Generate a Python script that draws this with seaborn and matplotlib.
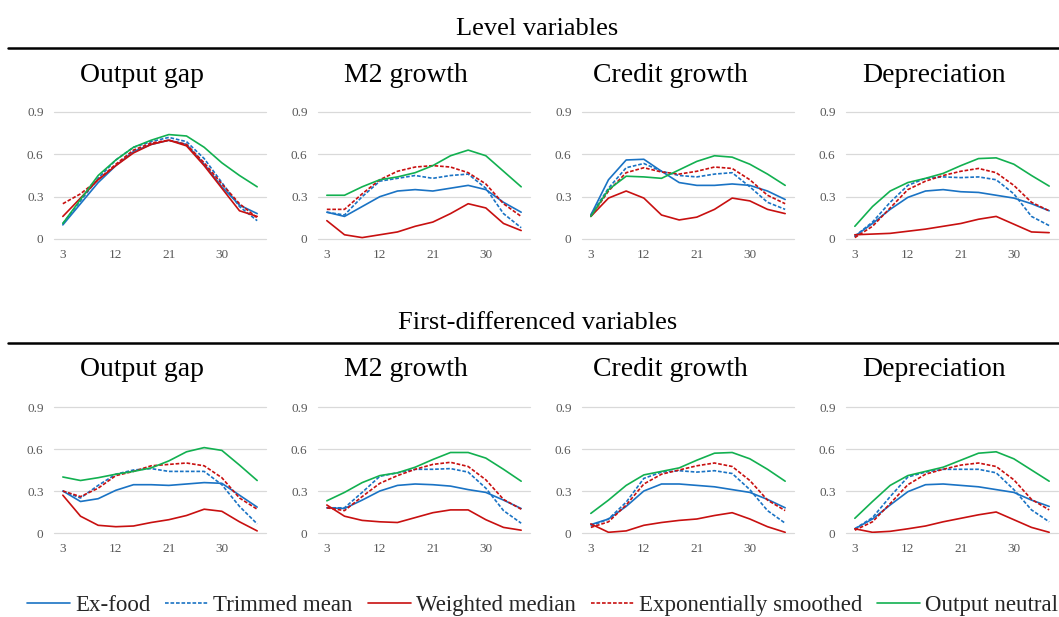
import matplotlib
matplotlib.use("Agg")
import matplotlib.pyplot as plt
from matplotlib.lines import Line2D
import numpy as np
import pandas as pd
import seaborn as sns

# ---------------- data ----------------
horizons = [3, 6, 9, 12, 15, 18, 21, 24, 27, 30, 33, 36]
series_names = ["Ex-food", "Trimmed mean", "Weighted median",
                "Exponentially smoothed", "Output neutral"]
panel_titles = ["Output gap", "M2 growth", "Credit growth", "Depreciation"]
section_titles = ["Level variables", "First-differenced variables"]
y_ticks = [0, 0.3, 0.6, 0.9]
y_tick_labels = ["0", "0.3", "0.6", "0.9"]
x_ticks = [3, 12, 21, 30]

lvl_output_gap = {
    "Ex-food":                [0.10, 0.25, 0.40, 0.52, 0.62, 0.67, 0.70, 0.67, 0.53, 0.37, 0.24, 0.18],
    "Trimmed mean":           [0.11, 0.27, 0.43, 0.56, 0.65, 0.69, 0.72, 0.69, 0.57, 0.40, 0.23, 0.13],
    "Weighted median":        [0.16, 0.29, 0.42, 0.52, 0.61, 0.67, 0.70, 0.66, 0.52, 0.36, 0.20, 0.16],
    "Exponentially smoothed": [0.25, 0.32, 0.42, 0.53, 0.63, 0.68, 0.70, 0.67, 0.54, 0.39, 0.25, 0.15],
    "Output neutral":         [0.11, 0.28, 0.45, 0.56, 0.65, 0.70, 0.74, 0.73, 0.65, 0.54, 0.45, 0.37],
}
lvl_m2_growth = {
    "Ex-food":                [0.19, 0.16, 0.23, 0.30, 0.34, 0.35, 0.34, 0.36, 0.38, 0.35, 0.26, 0.19],
    "Trimmed mean":           [0.19, 0.17, 0.30, 0.41, 0.43, 0.45, 0.43, 0.45, 0.46, 0.36, 0.18, 0.08],
    "Weighted median":        [0.13, 0.03, 0.01, 0.03, 0.05, 0.09, 0.12, 0.18, 0.25, 0.22, 0.11, 0.06],
    "Exponentially smoothed": [0.21, 0.21, 0.32, 0.42, 0.48, 0.51, 0.52, 0.51, 0.47, 0.39, 0.25, 0.16],
    "Output neutral":         [0.31, 0.31, 0.37, 0.42, 0.44, 0.47, 0.52, 0.59, 0.63, 0.59, 0.48, 0.37],
}
lvl_credit_growth = {
    "Ex-food":                [0.17, 0.42, 0.56, 0.565, 0.48, 0.40, 0.38, 0.38, 0.39, 0.38, 0.34, 0.28],
    "Trimmed mean":           [0.17, 0.36, 0.505, 0.535, 0.48, 0.45, 0.44, 0.46, 0.47, 0.37, 0.26, 0.21],
    "Weighted median":        [0.16, 0.29, 0.34, 0.29, 0.17, 0.135, 0.155, 0.21, 0.29, 0.27, 0.21, 0.18],
    "Exponentially smoothed": [0.16, 0.34, 0.47, 0.505, 0.475, 0.46, 0.48, 0.51, 0.50, 0.42, 0.31, 0.25],
    "Output neutral":         [0.16, 0.35, 0.445, 0.44, 0.43, 0.49, 0.55, 0.59, 0.58, 0.53, 0.46, 0.38],
}
lvl_depreciation = {
    "Ex-food":                [0.02, 0.11, 0.21, 0.295, 0.34, 0.35, 0.335, 0.33, 0.31, 0.29, 0.25, 0.20],
    "Trimmed mean":           [0.02, 0.12, 0.26, 0.38, 0.43, 0.44, 0.435, 0.44, 0.42, 0.32, 0.16, 0.095],
    "Weighted median":        [0.03, 0.035, 0.04, 0.055, 0.07, 0.09, 0.11, 0.14, 0.16, 0.105, 0.05, 0.045],
    "Exponentially smoothed": [0.01, 0.09, 0.22, 0.35, 0.41, 0.45, 0.48, 0.50, 0.47, 0.38, 0.26, 0.20],
    "Output neutral":         [0.09, 0.23, 0.34, 0.40, 0.43, 0.465, 0.52, 0.57, 0.575, 0.53, 0.45, 0.375],
}
fd_output_gap = {
    "Ex-food":                [0.30, 0.225, 0.245, 0.305, 0.345, 0.345, 0.34, 0.35, 0.36, 0.355, 0.27, 0.185],
    "Trimmed mean":           [0.30, 0.25, 0.34, 0.42, 0.45, 0.46, 0.44, 0.44, 0.44, 0.345, 0.19, 0.065],
    "Weighted median":        [0.27, 0.12, 0.055, 0.045, 0.05, 0.075, 0.095, 0.125, 0.17, 0.155, 0.08, 0.015],
    "Exponentially smoothed": [0.30, 0.26, 0.32, 0.41, 0.44, 0.48, 0.49, 0.50, 0.48, 0.395, 0.25, 0.17],
    "Output neutral":         [0.40, 0.375, 0.395, 0.42, 0.44, 0.465, 0.515, 0.58, 0.61, 0.59, 0.485, 0.375],
}
fd_m2_growth = {
    "Ex-food":                [0.18, 0.175, 0.235, 0.30, 0.34, 0.35, 0.345, 0.335, 0.31, 0.29, 0.235, 0.175],
    "Trimmed mean":           [0.18, 0.18, 0.29, 0.405, 0.43, 0.455, 0.455, 0.46, 0.435, 0.32, 0.16, 0.07],
    "Weighted median":        [0.20, 0.12, 0.09, 0.08, 0.075, 0.11, 0.145, 0.165, 0.165, 0.095, 0.04, 0.02],
    "Exponentially smoothed": [0.18, 0.16, 0.26, 0.355, 0.41, 0.455, 0.49, 0.505, 0.475, 0.38, 0.24, 0.17],
    "Output neutral":         [0.23, 0.29, 0.36, 0.41, 0.43, 0.47, 0.525, 0.575, 0.575, 0.535, 0.455, 0.37],
}
fd_credit_growth = {
    "Ex-food":                [0.06, 0.10, 0.19, 0.30, 0.35, 0.35, 0.34, 0.33, 0.31, 0.29, 0.24, 0.18],
    "Trimmed mean":           [0.05, 0.10, 0.22, 0.39, 0.435, 0.445, 0.435, 0.445, 0.425, 0.31, 0.16, 0.07],
    "Weighted median":        [0.065, 0.005, 0.015, 0.055, 0.075, 0.09, 0.10, 0.125, 0.145, 0.10, 0.045, 0.005],
    "Exponentially smoothed": [0.04, 0.08, 0.20, 0.35, 0.42, 0.45, 0.48, 0.50, 0.475, 0.375, 0.235, 0.16],
    "Output neutral":         [0.14, 0.235, 0.34, 0.415, 0.44, 0.465, 0.52, 0.57, 0.575, 0.53, 0.455, 0.37],
}
fd_depreciation = {
    "Ex-food":                [0.03, 0.10, 0.20, 0.295, 0.345, 0.35, 0.34, 0.33, 0.31, 0.29, 0.235, 0.19],
    "Trimmed mean":           [0.03, 0.11, 0.26, 0.40, 0.435, 0.455, 0.455, 0.455, 0.43, 0.31, 0.165, 0.08],
    "Weighted median":        [0.03, 0.005, 0.012, 0.03, 0.05, 0.08, 0.105, 0.13, 0.15, 0.095, 0.04, 0.005],
    "Exponentially smoothed": [0.02, 0.08, 0.21, 0.345, 0.42, 0.455, 0.485, 0.50, 0.475, 0.38, 0.24, 0.165],
    "Output neutral":         [0.105, 0.225, 0.34, 0.41, 0.44, 0.47, 0.52, 0.57, 0.58, 0.53, 0.45, 0.37],
}

rows = [
    [lvl_output_gap, lvl_m2_growth, lvl_credit_growth, lvl_depreciation],
    [fd_output_gap, fd_m2_growth, fd_credit_growth, fd_depreciation],
]

# ---------------- style ----------------
colors = {
    "Ex-food": "#1A73C4",
    "Trimmed mean": "#1A73C4",
    "Weighted median": "#C81010",
    "Exponentially smoothed": "#C81010",
    "Output neutral": "#12B050",
}
dash_pat = (2.2, 1.1)
dashes = {
    "Ex-food": "",
    "Trimmed mean": dash_pat,
    "Weighted median": "",
    "Exponentially smoothed": dash_pat,
    "Output neutral": "",
}

sns.set_theme(style="white")
plt.rcParams["font.family"] = ["Liberation Serif", "DejaVu Serif"]

W, H = 1059, 617
fig = plt.figure(figsize=(W / 100, H / 100), dpi=100)

left_px = [54, 318, 582, 846]
width_px = 212
row_px = [(112, 239), (407, 533)]      # (top, bottom) of plot areas
title_y_px = [76, 370]
section_y_px = [29, 323]
rule_y_px = [48, 343]
title_offset_px = -18

for r, row in enumerate(rows):
    top, bot = row_px[r]
    for c, panel in enumerate(row):
        ax = fig.add_axes([left_px[c] / W, 1 - bot / H, width_px / W, (bot - top) / H])
        df = pd.DataFrame(
            [(h, v, s) for s in series_names for h, v in zip(horizons, panel[s])],
            columns=["Horizon", "R2", "Series"],
        )
        sns.lineplot(data=df, x="Horizon", y="R2", hue="Series", style="Series",
                     palette=colors, dashes=dashes, hue_order=series_names,
                     style_order=series_names, linewidth=1.2, legend=False,
                     errorbar=None, sort=False, ax=ax)
        ax.set_xlim(1.5, 37.5)
        ax.set_ylim(0, 0.9)
        ax.set_xticks(x_ticks)
        ax.set_xticklabels([str(t) for t in x_ticks])
        ax.set_yticks(y_ticks)
        ax.set_yticklabels(y_tick_labels)
        ax.set_xlabel("")
        ax.set_ylabel("")
        for sp in ax.spines.values():
            sp.set_visible(False)
        ax.yaxis.grid(True, color="#D9D9D9", linewidth=0.9)
        ax.xaxis.grid(False)
        ax.set_axisbelow(True)
        ax.tick_params(axis="both", length=0, labelsize=9.5, colors="#595959")
        ax.tick_params(axis="y", pad=7.5)
        ax.tick_params(axis="x", pad=7)
        for gl in ax.get_ygridlines():
            gl.set_clip_on(False)
        cx = left_px[c] + width_px / 2 + title_offset_px
        fig.text(cx / W, 1 - title_y_px[r] / H, panel_titles[c],
                 ha="center", va="center", fontsize=20, color="black")
    fig.text(0.5 + 8 / W, 1 - section_y_px[r] / H, section_titles[r],
             ha="center", va="center", fontsize=19, color="black")
    fig.add_artist(Line2D([8 / W, 1.0], [1 - rule_y_px[r] / H] * 2,
                          transform=fig.transFigure, color="black", linewidth=1.8))

handles = [Line2D([], [], color=colors[s],
                  linestyle=(0, dashes[s]) if dashes[s] else "-",
                  linewidth=1.2) for s in series_names]
fig.legend(handles, series_names, loc="center", bbox_to_anchor=(542.5 / W, 1 - 605 / H),
           ncol=5, frameon=False, fontsize=16.5, handlelength=1.88,
           handletextpad=0.22, columnspacing=0.65)

fig.savefig("out.png", dpi=100)
